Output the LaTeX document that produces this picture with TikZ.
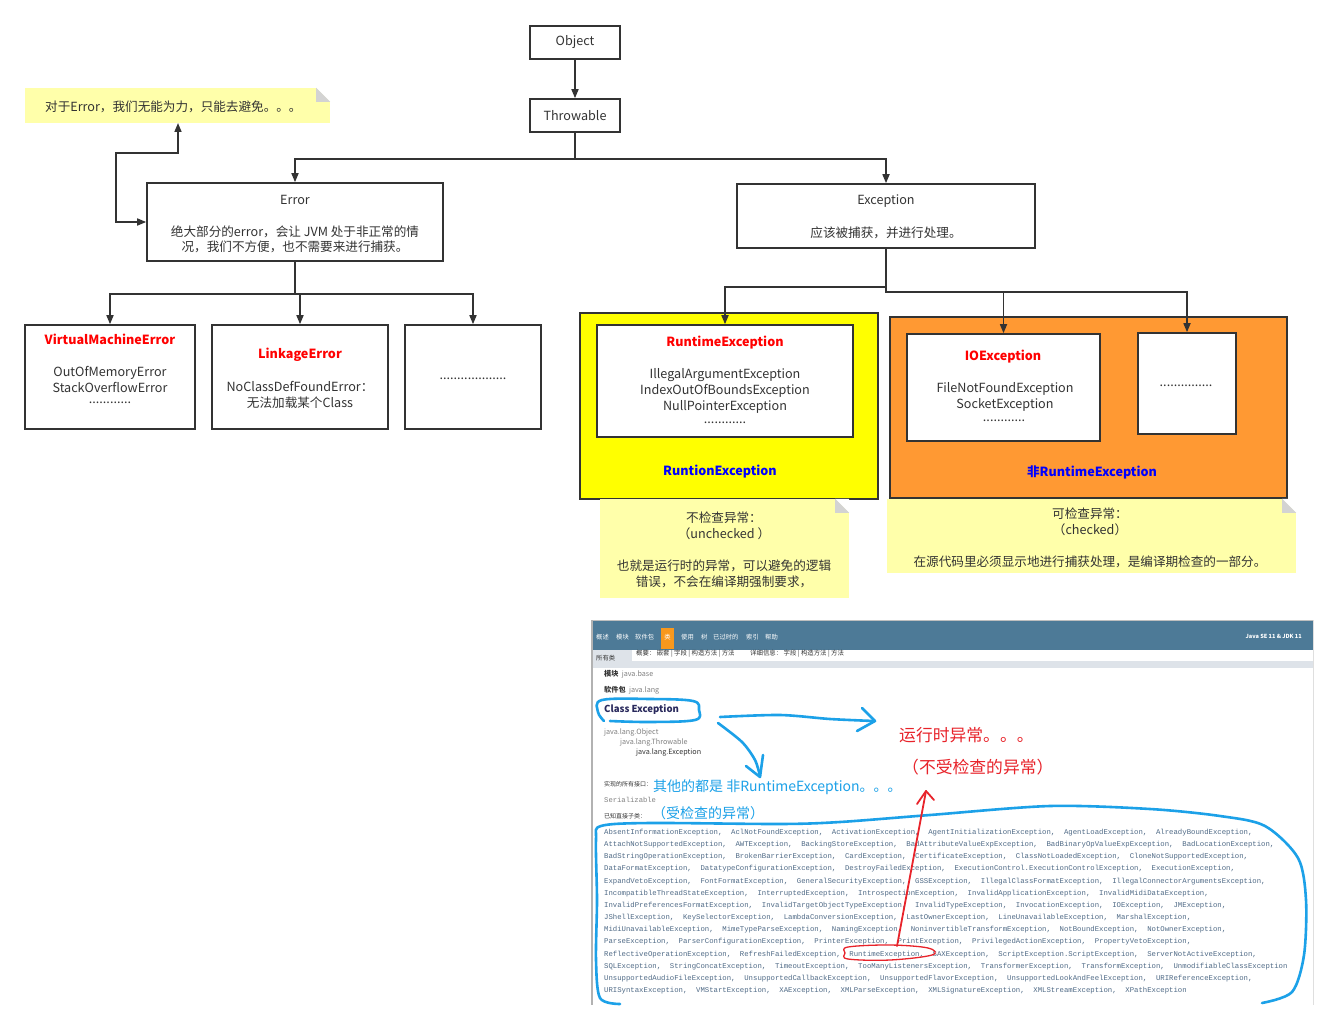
\documentclass[tikz,border=0pt]{standalone}
\usepackage{fontspec}
\setmainfont{Noto Sans CJK SC}
\newfontfamily\codefont{Liberation Mono}
\usetikzlibrary{calc, positioning}
\usetikzlibrary{arrows.meta}

\definecolor{linec}{HTML}{333333}
\definecolor{txtc}{HTML}{333333}
\definecolor{notey}{HTML}{FFFFAA}
\definecolor{foldg}{HTML}{D3D3D3}
\definecolor{yelc}{HTML}{FFFF00}
\definecolor{orgc}{HTML}{FF9933}
\definecolor{redt}{HTML}{FF0000}
\definecolor{bluet}{HTML}{0000FF}
\definecolor{hdrc}{HTML}{4D7A97}
\definecolor{tabc}{HTML}{F8981D}
\definecolor{subg}{HTML}{DEE3E9}
\definecolor{codec}{HTML}{4F6A86}
\definecolor{blueink}{HTML}{1CA1E8}
\definecolor{redink}{HTML}{E8232A}

\newcommand{\lsep}{,\ \ }
% folded corner of a note
\newcommand{\notefold}[1]{%
  \fill[white] ([xshift=-14pt]#1.north east) -- (#1.north east) -- ([yshift=-14pt]#1.north east) -- cycle;
  \fill[foldg] ([xshift=-14pt]#1.north east) -- ([yshift=-14pt]#1.north east) -- ([xshift=-14pt,yshift=-14pt]#1.north east) -- cycle;}

\begin{document}
\begin{tikzpicture}[x=1pt, y=-1pt,
  box/.style={draw=linec, line width=1.6pt, fill=white, inner sep=0pt},
  cont/.style={draw=linec, line width=1.6pt, inner sep=0pt},
  note/.style={fill=notey, inner sep=0pt},
  lbl/.style={inner sep=0pt, text=txtc, font=\fontsize{12.6}{16}\selectfont, align=center},
  ttl/.style={lbl, font=\fontsize{12.6}{16}\selectfont\bfseries, text=redt},
  sub/.style={lbl, font=\fontsize{12.6}{16}\selectfont\bfseries, text=bluet},
  conn/.style={draw=linec, line width=1.6pt, -{Triangle[length=9pt,width=7pt]}},
  tiny/.style={inner sep=0pt, anchor=west, font=\fontsize{7.2}{8}\selectfont},
  navtxt/.style={inner sep=0pt, anchor=west, text=white, font=\fontsize{6.3}{7}\selectfont},
  ink/.style={draw=blueink, line width=2.6pt, line cap=round, line join=round},
  redpen/.style={draw=redink, line width=1.8pt, line cap=round, line join=round}]
\useasboundingbox (0,0) rectangle (1338,1030);

% top of the hierarchy
\node[box, lbl, minimum width=90pt, minimum height=33pt] (object) at (575,42.5) {Object};
\node[box, lbl, minimum width=90pt, minimum height=33pt] (throw) at (575,115.5) {Throwable};
\draw[conn] (object) -- (throw);

\node[box, minimum width=296pt, minimum height=78pt] (error) at (295,222) {};
\node[lbl] (errname) at (295,200) {Error};
\node[lbl, font=\fontsize{12.6}{15}\selectfont] (errtext) at (295,239.5) {绝大部分的error，会让 JVM 处于非正常的情\\况，我们不方便，也不需要来进行捕获。};

\node[box, minimum width=298pt, minimum height=64pt] (exc) at (886,216) {};
\node[lbl] (excname) at (886,201) {Exception};
\node[lbl] (exctext) at (886,233) {应该被捕获，并进行处理。};

\draw[conn] (throw.south) -- ++(0,26) -| (error.north);
\draw[conn] (throw.south) -- ++(0,26) -| (exc.north);

% note on Error
\node[note, minimum width=305pt, minimum height=35pt] (errnote) at (177.5,105.5) {};
\notefold{errnote}
\node[lbl, anchor=west] (errnotetext) at (45,107) {对于Error，我们无能为力，只能去避免。。。};
\coordinate (errnotein) at (178,123);
\draw[conn, {Triangle[length=9pt,width=7pt]}-{Triangle[length=9pt,width=7pt]}] (errnotein) -- ++(0,30) -| ([xshift=-30pt]error.west) -- (error.west);

% Error subclasses
\node[box, minimum width=170pt, minimum height=104pt] (vme) at (110,377) {};
\node[ttl] (vmename) at (110,339) {VirtualMachineError};
\node[lbl] (vmetext) at (110,379) {OutOfMemoryError\\StackOverflowError};
\node[lbl] (vmedots) at (110,403) {............};

\node[box, minimum width=176pt, minimum height=104pt] (link) at (300,377) {};
\node[ttl] (linkname) at (300,355) {LinkageError};
\node[lbl] (linktext) at (300,395) {NoClassDefFoundError：\\无法加载某个Class};

\node[box, minimum width=136pt, minimum height=104pt] (edots) at (473,377) {};
\node[lbl] (edotstext) at (473,379) {...................};

\draw[conn] (error.south) -- ++(0,32) -| (vme.north);
\draw[conn] (error.south) -- ++(0,32) -| (link.north);
\draw[conn] (error.south) -- ++(0,32) -| (edots.north);

% Exception subclasses
\node[cont, fill=yelc, minimum width=298pt, minimum height=186pt] (rtcont) at (729,406) {};
\node[box, minimum width=256pt, minimum height=112pt] (rte) at (725,381) {};
\node[ttl] (rtename) at (725,343) {RuntimeException};
\node[lbl] (rtetext) at (725,391) {IllegalArgumentException\\IndexOutOfBoundsException\\NullPointerException};
\node[lbl] (rtedots) at (725,423) {............};
\node[sub] (rtsub) at (720,472) {RuntionException};

\node[cont, fill=orgc, minimum width=397pt, minimum height=181pt] (chkcont) at (1088.5,407.5) {};
\node[box, minimum width=193pt, minimum height=107pt] (ioe) at (1003.5,387.5) {};
\node[ttl] (ioename) at (1003,357) {IOException};
\node[lbl] (ioetext) at (1005,397) {FileNotFoundException\\SocketException};
\node[lbl] (ioedots) at (1004,421) {............};
\node[box, minimum width=98pt, minimum height=101pt] (odots) at (1187,383.5) {};
\node[lbl] (odotstext) at (1186,386) {...............};
\node[sub] (chksub) at (1092,472) {非RuntimeException};

\draw[conn] (exc.south) -- ++(0,38) -| (rte.north);
\draw[conn] (exc.south) -- ++(0,43) -| (ioe.north);
\draw[conn] (exc.south) -- ++(0,43) -| (odots.north);

% notes under the two groups
\node[note, minimum width=249pt, minimum height=99pt] (uncnote) at (724.5,548.5) {};
\notefold{uncnote}
\node[lbl] (unctext) at (724,526) {不检查异常：\\（unchecked ）};
\node[lbl] (uncmore) at (724,574) {也就是运行时的异常，可以避免的逻辑\\错误，不会在编译期强制要求，};

\node[note, minimum width=409pt, minimum height=74pt] (chknote) at (1091.5,536) {};
\notefold{chknote}
\node[lbl] (chktext) at (1090,522) {可检查异常：\\（checked）};
\node[lbl] (chkmore) at (1090,562) {在源代码里必须显示地进行捕获处理，是编译期检查的一部分。};

% api doc screenshot
\fill[white] (592,620) rectangle (1313,1005);
\fill[hdrc] (592,621) rectangle (1313,650);
\fill[tabc] (661,628) rectangle (674,649);
\fill[subg] (592,650) rectangle (1313,668);
\fill[white] (632,650) rectangle (1313,661);
\draw[gray!50, line width=1pt] (592,620) -- (1313,620);
\draw[gray!60, line width=1.5pt] (592,620) -- (592,1005);
\draw[gray!25, line width=1pt] (1313,620) -- (1313,1005);

\node[navtxt] (nav1) at (596,637) {概述};
\node[navtxt] (nav2) at (616,637) {模块};
\node[navtxt] (nav3) at (635,637) {软件包};
\node[navtxt, anchor=center] (nav4) at (667.5,637) {类};
\node[navtxt] (nav5) at (681,637) {使用};
\node[navtxt] (nav6) at (701,637) {树};
\node[navtxt] (nav7) at (713,637) {已过时的};
\node[navtxt] (nav8) at (746,637) {索引};
\node[navtxt] (nav9) at (765,637) {帮助};
\node[navtxt, anchor=east, font=\fontsize{5.6}{6}\selectfont\bfseries] (jdk) at (1302,636) {Java SE 11 \& JDK 11};
\node[tiny, text=txtc, font=\fontsize{6.3}{7}\selectfont] (allcls) at (596,658) {所有类};
\node[tiny, text=txtc, font=\fontsize{6.4}{7}\selectfont] (summary) at (636,654) {概要：\ 嵌套 | 字段 | 构造方法 | 方法};
\node[tiny, text=txtc, font=\fontsize{6.4}{7}\selectfont] (details) at (750,654) {详细信息：\ 字段 | 构造方法 | 方法};

\node[tiny, text=txtc] (module) at (604,674) {\textbf{模块}\ \ \textcolor{gray}{java.base}};
\node[tiny, text=txtc] (package) at (604,690) {\textbf{软件包}\ \ \textcolor{gray}{java.lang}};
\node[tiny, text=txtc!80!blue, font=\fontsize{9.6}{10}\selectfont\bfseries] (clsname) at (604,709) {Class Exception};
\node[tiny, text=gray] (inh1) at (604,733) {java.lang.Object};
\node[tiny, text=gray] (inh2) at (620,743) {java.lang.Throwable};
\node[tiny, text=txtc] (inh3) at (636,753) {java.lang.Exception};
\node[tiny, text=txtc, font=\fontsize{6}{7}\selectfont] (ifaces) at (604,784) {实现的所有接口：};
\node[tiny, text=gray, font=\codefont\fontsize{7.2}{8}\selectfont] (serial) at (604,800) {Serializable};
\node[tiny, text=txtc, font=\fontsize{6}{7}\selectfont] (known) at (604,816) {已知直接子类：};

\node[inner sep=0pt, anchor=north west, align=left, text=codec, font=\codefont\fontsize{7.3}{12.15}\selectfont] (subclasses) at (604,829) {%
AbsentInformationException\lsep AclNotFoundException\lsep ActivationException\lsep AgentInitializationException\lsep AgentLoadException\lsep AlreadyBoundException,\\
AttachNotSupportedException\lsep AWTException\lsep BackingStoreException\lsep BadAttributeValueExpException\lsep BadBinaryOpValueExpException\lsep BadLocationException,\\
BadStringOperationException\lsep BrokenBarrierException\lsep CardException\lsep CertificateException\lsep ClassNotLoadedException\lsep CloneNotSupportedException,\\
DataFormatException\lsep DatatypeConfigurationException\lsep DestroyFailedException\lsep ExecutionControl.ExecutionControlException\lsep ExecutionException,\\
ExpandVetoException\lsep FontFormatException\lsep GeneralSecurityException\lsep GSSException\lsep IllegalClassFormatException\lsep IllegalConnectorArgumentsException,\\
IncompatibleThreadStateException\lsep InterruptedException\lsep IntrospectionException\lsep InvalidApplicationException\lsep InvalidMidiDataException,\\
InvalidPreferencesFormatException\lsep InvalidTargetObjectTypeException\lsep InvalidTypeException\lsep InvocationException\lsep IOException\lsep JMException,\\
JShellException\lsep KeySelectorException\lsep LambdaConversionException\lsep LastOwnerException\lsep LineUnavailableException\lsep MarshalException,\\
MidiUnavailableException\lsep MimeTypeParseException\lsep NamingException\lsep NoninvertibleTransformException\lsep NotBoundException\lsep NotOwnerException,\\
ParseException\lsep ParserConfigurationException\lsep PrinterException\lsep PrintException\lsep PrivilegedActionException\lsep PropertyVetoException,\\
ReflectiveOperationException\lsep RefreshFailedException\lsep RuntimeException\lsep SAXException\lsep ScriptException.ScriptException\lsep ServerNotActiveException,\\
SQLException\lsep StringConcatException\lsep TimeoutException\lsep TooManyListenersException\lsep TransformerException\lsep TransformException\lsep UnmodifiableClassException\\
UnsupportedAudioFileException\lsep UnsupportedCallbackException\lsep UnsupportedFlavorException\lsep UnsupportedLookAndFeelException\lsep URIReferenceException,\\
URISyntaxException\lsep VMStartException\lsep XAException\lsep XMLParseException\lsep XMLSignatureException\lsep XMLStreamException\lsep XPathException};

% hand-drawn marks on the screenshot
\draw[ink] plot[smooth, tension=0.6] coordinates {(604,721) (598,712) (602,700) (650,699) (693,701) (699,710) (695,720) (650,722) (610,721)};
\draw[ink] plot[smooth] coordinates {(720,717) (780,715) (830,719) (874,721)};
\draw[ink] (862,708) -- (875,721) -- (857,731);
\draw[ink] plot[smooth] coordinates {(718,723) (742,742) (755,760) (760,776)};
\draw[ink] (746,766) -- (760,777) -- (763,755);
\draw[ink] plot[smooth, tension=0.5] coordinates {(620,1004) (600,998) (596,960) (597,900) (596,840) (601,826) (650,823) (780,824) (840,822) (930,815) (1050,806) (1150,809) (1220,816) (1265,826) (1298,858) (1306,900) (1304,955) (1292,992) (1262,1003)};
\node[inner sep=0pt, anchor=west, text=blueink, font=\fontsize{14}{16}\selectfont] (othernote) at (653,787) {其他的都是 非RuntimeException。。。};
\node[inner sep=0pt, anchor=west, text=blueink, font=\fontsize{14}{16}\selectfont] (checknote) at (652,813) {（受检查的异常）};

\node[inner sep=0pt, anchor=west, text=redink, font=\fontsize{16.8}{18}\selectfont] (rtnote) at (899,735) {运行时异常。。。};
\node[inner sep=0pt, anchor=west, text=redink, font=\fontsize{16.8}{18}\selectfont] (uncheck) at (902,767) {（不受检查的异常）};
\draw[redpen, line width=1.3pt] plot[smooth cycle, tension=0.6] coordinates {(848,947) (890,945) (928,948) (932,955) (890,960) (848,959) (845,953)};
\coordinate (redtail) at (897,946);
\coordinate (redtip) at (926,791);
\draw[redpen] (redtail) -- (redtip);
\draw[redpen] (917,804) -- (redtip) -- (934,800);

\end{tikzpicture}
\end{document}
